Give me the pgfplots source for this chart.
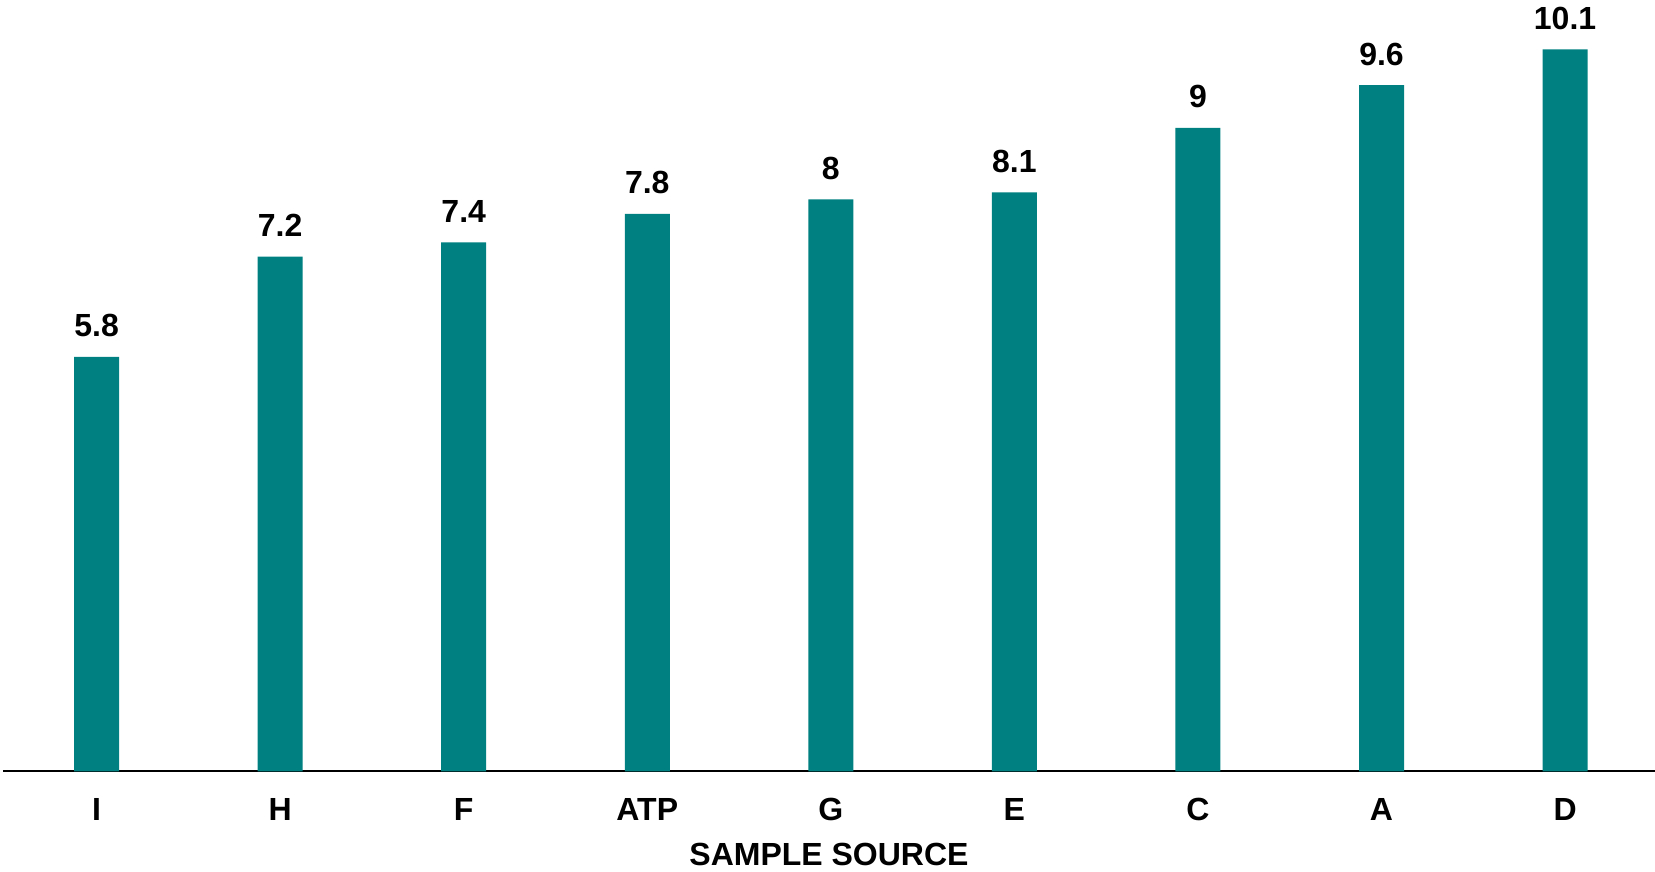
\documentclass[border=0pt]{standalone}
\usepackage{fontspec}
\setmainfont{Liberation Sans}
\usepackage{pgfplots}
\pgfplotsset{compat=1.18}
\definecolor{barteal}{RGB}{0,128,128}
\newcommand{\chartfont}{\fontsize{16}{19}\selectfont\bfseries}
\begin{document}
\begin{tikzpicture}
\begin{axis}[
  at={(0,0)}, anchor=south west,
  scale only axis, width=826pt, height=385.75pt,
  xmin=-0.51, xmax=8.49, ymin=0, ymax=10.79,
  axis x line=bottom, axis y line=none,
  axis line style={line width=1pt, -},
  xtick=data, xticklabels={I,H,F,ATP,G,E,C,A,D},
  ytick=\empty,
  major tick length=0pt,
  xticklabel style={font=\chartfont, inner sep=0pt, anchor=north, yshift=-13.25pt},
  xlabel={SAMPLE SOURCE},
  xlabel style={at={(axis description cs:0.5,0)}, anchor=north, yshift=-35.75pt, inner sep=0pt, font=\chartfont},
  ybar, bar width=22.5pt,
  nodes near coords,
  /pgf/number format/assume math mode=true,
  /pgf/number format/fixed, /pgf/number format/precision=1,
  nodes near coords style={anchor=base, yshift=10pt, inner sep=0pt, font=\chartfont, text=black},
  clip=false,
]
\addplot[fill=barteal, draw=none] coordinates {
  (0,5.8) (1,7.2) (2,7.4) (3,7.8) (4,8) (5,8.1) (6,9) (7,9.6) (8,10.1)
};
\end{axis}
\pgfresetboundingbox
\path[use as bounding box] (-1.5pt,-50.25pt) rectangle (826pt,385.75pt);
\end{tikzpicture}
\end{document}
